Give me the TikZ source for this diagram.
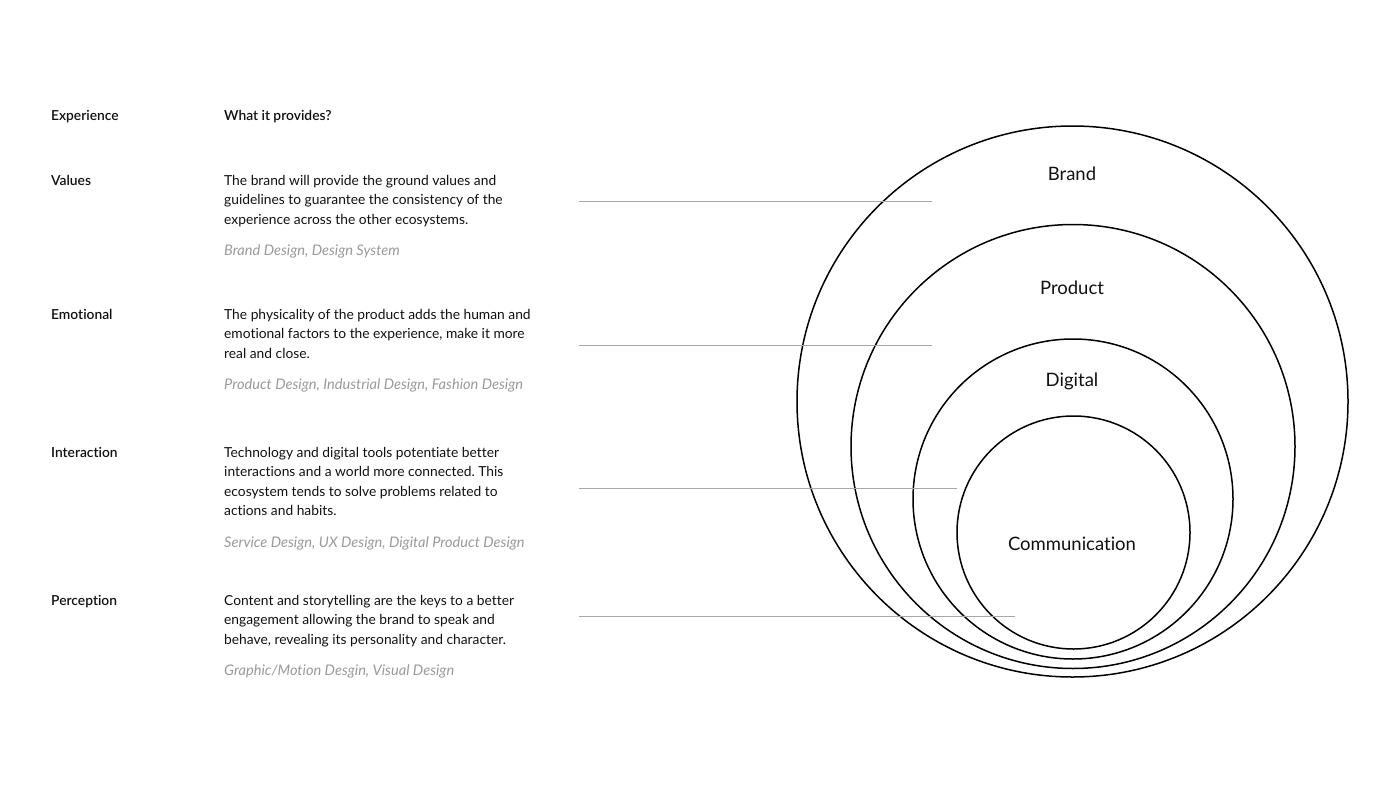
\documentclass[tikz,border=0pt]{standalone}
\usepackage{fontspec}
\setmainfont{Lato}[Ligatures=NoCommon,BoldFont={Lato Semibold}]
\frenchspacing
\definecolor{txt}{HTML}{111111}
\definecolor{sub}{HTML}{9A9A9A}
\definecolor{rule}{HTML}{A8A8A8}
\begin{document}
\begin{tikzpicture}[x=1pt,y=-1pt,
  head/.style={anchor=base west,inner sep=0pt,font=\fontsize{13.8}{15}\selectfont\bfseries,text=txt},
  body/.style={anchor=base west,inner sep=0pt,font=\fontsize{13.8}{15}\selectfont,text=txt},
  tag/.style={anchor=base west,inner sep=0pt,font=\fontsize{14.6}{15}\selectfont\itshape,text=sub},
  ring/.style={draw=black,line width=1.5pt},
  lbl/.style={inner sep=0pt,font=\fontsize{18.5}{20}\selectfont,text=txt},
  guide/.style={draw=rule,line width=1pt}]
\useasboundingbox[fill=white] (0,0) rectangle (1400,787);
% headers
\node[head] (hexp) at (51,120.5) {Experience};
\node[head] (hwhat) at (224,120.5) {What it provides?};
% Values
\node[head] (values) at (51,185) {Values};
\node[body] (v1) at (224,185) {The brand will provide the ground values and};
\node[body] (v2) at (224,204.5) {guidelines to guarantee the consistency of the};
\node[body] (v3) at (224,224) {experience across the other ecosystems.};
\node[tag] (v4) at (224,255) {Brand Design, Design System};
% Emotional
\node[head] (emotional) at (51,319) {Emotional};
\node[body] (e1) at (224,319) {The physicality of the product adds the human and};
\node[body] (e2) at (224,338.5) {emotional factors to the experience, make it more};
\node[body] (e3) at (224,358) {real and close.};
\node[tag] (e4) at (224,389) {Product Design, Industrial Design, Fashion Design};
% Interaction
\node[head] (interaction) at (51,457) {Interaction};
\node[body] (i1) at (224,457) {Technology and digital tools potentiate better};
\node[body] (i2) at (224,476.5) {interactions and a world more connected. This};
\node[body] (i3) at (224,496) {ecosystem tends to solve problems related to};
\node[body] (i4) at (224,515.5) {actions and habits.};
\node[tag] (i5) at (224,547) {Service Design, UX Design, Digital Product Design};
% Perception
\node[head] (perception) at (51,605) {Perception};
\node[body] (p1) at (224,605) {Content and storytelling are the keys to a better};
\node[body] (p2) at (224,624.5) {engagement allowing the brand to speak and};
\node[body] (p3) at (224,644) {behave, revealing its personality and character.};
\node[tag] (p4) at (224,675) {Graphic/Motion Desgin, Visual Design};
% circles
\draw[ring] (1072.5,401.5) circle[radius=275.5];
\draw[ring] (1073,446.5) circle[radius=222];
\draw[ring] (1073,499) circle[radius=160];
\draw[ring] (1073.5,532.5) circle[radius=116.5];
\node[lbl] (brand) at (1072,174) {Brand};
\node[lbl] (product) at (1072,288) {Product};
\node[lbl] (digital) at (1072,381) {Digital};
\node[lbl] (comm) at (1072,544) {Communication};
% guide lines
\coordinate (g1a) at (579,201); \coordinate (g1b) at (932,201);
\coordinate (g2a) at (579,345); \coordinate (g2b) at (932,345);
\coordinate (g3a) at (579,488); \coordinate (g3b) at (957,488);
\coordinate (g4a) at (579,616.5); \coordinate (g4b) at (1015,616.5);
\draw[guide] (g1a) -- (g1b);
\draw[guide] (g2a) -- (g2b);
\draw[guide] (g3a) -- (g3b);
\draw[guide] (g4a) -- (g4b);
\end{tikzpicture}
\end{document}
